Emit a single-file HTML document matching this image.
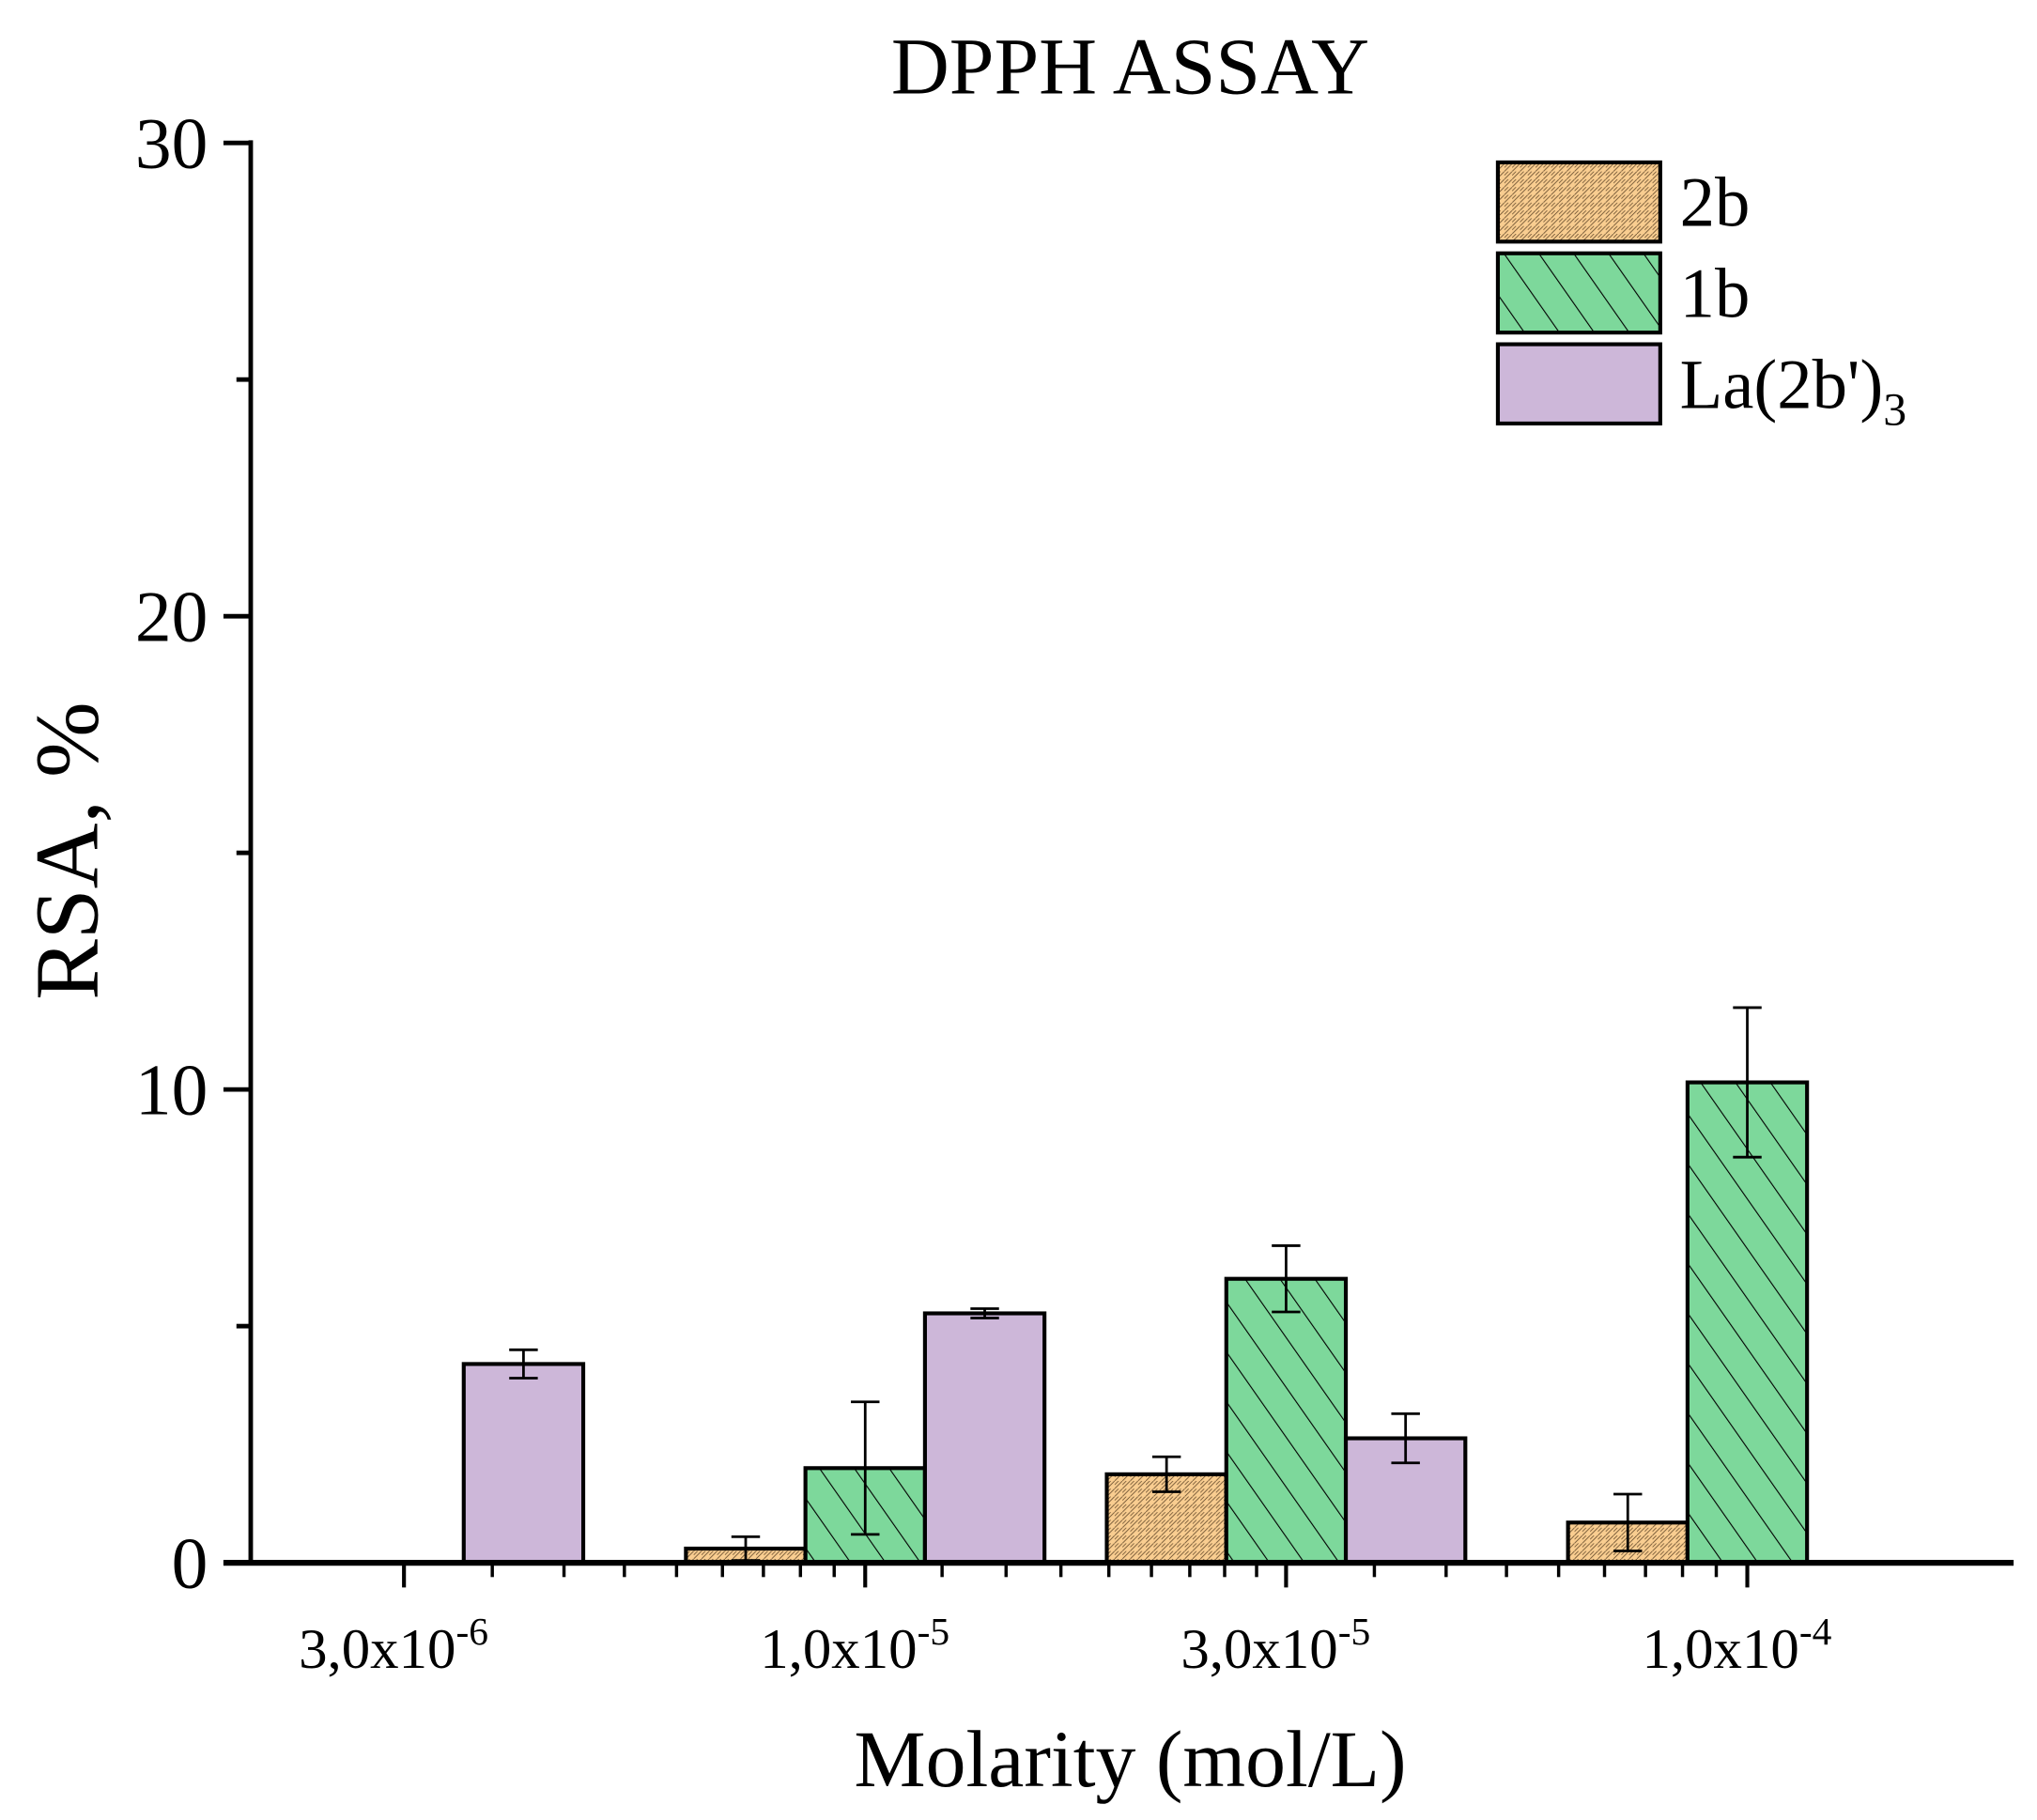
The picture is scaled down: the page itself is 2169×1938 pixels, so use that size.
<!DOCTYPE html>
<html><head><meta charset="utf-8"><style>
html,body{margin:0;padding:0;background:#fff;}
svg{display:block;font-family:"Liberation Serif",serif;}
</style></head><body>
<svg id="chart" width="2169" height="1938" viewBox="0 0 1568 1401" xmlns="http://www.w3.org/2000/svg">
<defs>
<pattern id="p2b" width="6" height="6" patternUnits="userSpaceOnUse">
<rect width="6" height="6" fill="#f9cd90"/>
<path d="M0,6 L6,0 M0,3 L3,0" stroke="#6b5030" stroke-width="0.6"/>
</pattern>
<pattern id="p1b" width="22" height="22" patternUnits="userSpaceOnUse" patternTransform="rotate(-35)">
<rect width="22" height="22" fill="#7dd89b"/>
<line x1="0" y1="0" x2="0" y2="22" stroke="#000" stroke-width="1.6"/>
</pattern>
</defs>
<text x="870" y="72" font-size="62" text-anchor="middle">DPPH ASSAY</text>
<g id="bars"></g>
<g id="axes"></g>
<text transform="translate(75,655) rotate(-90)" font-size="70" text-anchor="middle">RSA, %</text>
<text x="870" y="1375" font-size="62" text-anchor="middle">Molarity (mol/L)</text>
<g>
<rect x="1153" y="125" width="125" height="61" fill="url(#p2b)" stroke="#000" stroke-width="3"/>
<text x="1293" y="174" font-size="54">2b</text>
<rect x="1153" y="195" width="125" height="61" fill="url(#p1b)" stroke="#000" stroke-width="3"/>
<text x="1293" y="244" font-size="54">1b</text>
<rect x="1153" y="265" width="125" height="61" fill="#cdb7d9" stroke="#000" stroke-width="3"/>
<text x="1293" y="314" font-size="54">La(2b')<tspan font-size="36" dy="13">3</tspan></text>
</g>
</svg>
<script>
const categories = [3e-6, 1e-5, 3e-5, 1e-4];
const catLabels = ["3,0x10", "1,0x10", "3,0x10", "1,0x10"];
const catExps = ["-6", "-5", "-5", "-4"];
const vals2b = [null, 0.3, 1.87, 0.85];
const err2b = [0, 0.25, 0.37, 0.6];
const vals1b = [null, 2.0, 6.0, 10.15];
const err1b = [0, 1.4, 0.7, 1.58];
const valsLa = [4.2, 5.27, 2.63, null];
const errLa = [0.3, 0.1, 0.52, 0];
const yTicks = [0, 10, 20, 30];
const yMinor = [5, 15, 25];

const NS = "http://www.w3.org/2000/svg";
const y0 = 1203, yPer = (1203 - 110) / 30;
const yS = v => y0 - v * yPer;
const xS = m => 666 + Math.log10(m / 1e-5) * 679;
const BW = 92;
function mk(tag, attrs, parent) {
  const e = document.createElementNS(NS, tag);
  for (const k in attrs) e.setAttribute(k, attrs[k]);
  parent.appendChild(e);
  return e;
}
const barsG = document.getElementById('bars');
const axesG = document.getElementById('axes');
const series = [
  {v: vals2b, e: err2b, fill: "url(#p2b)", off: -1, n: "2b"},
  {v: vals1b, e: err1b, fill: "url(#p1b)", off: 0, n: "1b"},
  {v: valsLa, e: errLa, fill: "#cdb7d9", off: 1, n: "la"}
];
series.forEach(s => {
  categories.forEach((c, i) => {
    const val = s.v[i];
    if (val === null) return;
    const cx = xS(c) + s.off * BW;
    const r = mk('rect', {x: cx - BW / 2, y: yS(val), width: BW, height: y0 - yS(val), fill: s.fill, stroke: '#000', 'stroke-width': 3}, barsG);
    
    
    const er = s.e[i];
    const g = mk('g', {stroke: '#000', 'stroke-width': 2}, barsG);
    
    
    mk('line', {x1: cx, x2: cx, y1: yS(val + er), y2: yS(val - er)}, g);
    mk('line', {x1: cx - 11, x2: cx + 11, y1: yS(val + er), y2: yS(val + er)}, g);
    mk('line', {x1: cx - 11, x2: cx + 11, y1: yS(val - er), y2: yS(val - er)}, g);
  });
});
let l = mk('line', {x1: 193, x2: 193, y1: 108, y2: 1205, stroke: '#000', 'stroke-width': 3.5}, axesG);


yTicks.forEach(t => {
  mk('line', {x1: 172, x2: 193, y1: yS(t), y2: yS(t), stroke: '#000', 'stroke-width': 3.5}, axesG);
  const tx = mk('text', {x: 160, y: yS(t) + 19, 'font-size': 56, 'text-anchor': 'end'}, axesG);
  tx.textContent = t;
  
  
});
yMinor.forEach(t => {
  mk('line', {x1: 182, x2: 193, y1: yS(t), y2: yS(t), stroke: '#000', 'stroke-width': 3.5}, axesG);
});
l = mk('line', {x1: 172, x2: 1550, y1: 1203, y2: 1203, stroke: '#000', 'stroke-width': 4.5}, axesG);


categories.forEach((c, i) => {
  const x = xS(c);
  mk('line', {x1: x, x2: x, y1: 1203, y2: 1222, stroke: '#000', 'stroke-width': 3}, axesG);
  const tx = mk('text', {x: x - 8, y: 1284, 'font-size': 44, 'text-anchor': 'middle'}, axesG);
  tx.textContent = catLabels[i];
  const sp = mk('tspan', {'font-size': 30, dy: -18}, tx);
  sp.textContent = catExps[i];
  
  
  if (i < categories.length - 1) {
    const a = c, b = categories[i + 1];
    for (let k = 1; k <= 8; k++) {
      const m = a + k * (b - a) / 9;
      const mx = xS(m);
      mk('line', {x1: mx, x2: mx, y1: 1203, y2: 1214, stroke: '#000', 'stroke-width': 2.5}, axesG);
    }
  }
});
</script>
</body></html>
